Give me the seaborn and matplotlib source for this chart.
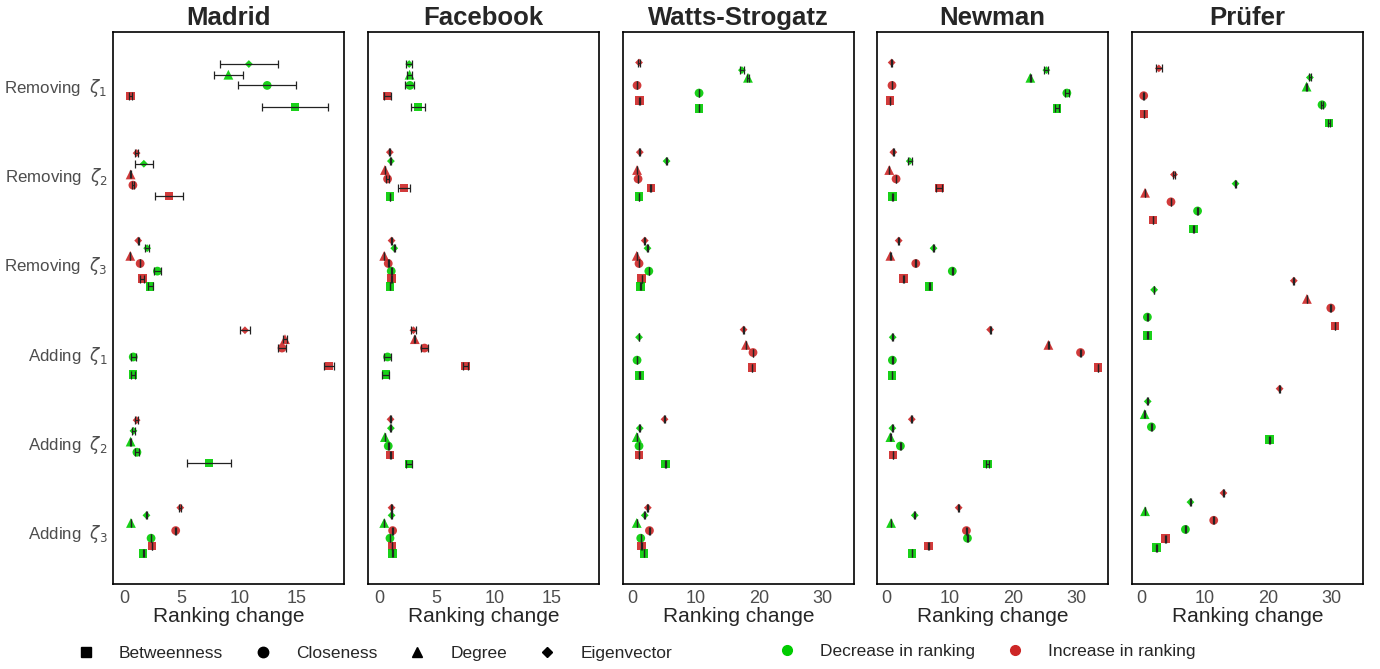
import numpy as np
import pandas as pd
import matplotlib
matplotlib.use("Agg")
import matplotlib.pyplot as plt
from matplotlib.lines import Line2D
import seaborn as sns

sns.set_style("white")
plt.rcParams["font.family"] = ["Liberation Sans", "DejaVu Sans"]

# categories (top to bottom)
categories = ["Removing  $\\zeta_1$", "Removing  $\\zeta_2$", "Removing  $\\zeta_3$",
              "Adding  $\\zeta_1$", "Adding  $\\zeta_2$", "Adding  $\\zeta_3$"]
# the Prüfer panel has no "Removing zeta_3" entry
pruefer_categories = [0, 1, 3, 4, 5]

networks = ["Madrid", "Facebook", "Watts-Strogatz", "Newman", "Prüfer"]
measures = ["Eigenvector", "Degree", "Closeness", "Betweenness"]
directions = ["inc", "dec"]

# rows: (category index, measure, direction, mean ranking change, error)
madrid = [
    (0, "Eigenvector", "dec", 10.83, 2.5), (0, "Degree", "dec", 9.05, 1.25),
    (0, "Closeness", "dec", 12.42, 2.5), (0, "Betweenness", "inc", 0.52, 0.12),
    (0, "Betweenness", "dec", 14.84, 2.83),
    (1, "Eigenvector", "inc", 1.07, 0.12), (1, "Eigenvector", "dec", 1.70, 0.78),
    (1, "Degree", "inc", 0.55, 0.03), (1, "Closeness", "inc", 0.75, 0.1),
    (1, "Betweenness", "inc", 3.89, 1.21),
    (2, "Eigenvector", "inc", 1.21, 0.05), (2, "Eigenvector", "dec", 1.99, 0.18),
    (2, "Degree", "inc", 0.52, 0.02), (2, "Closeness", "inc", 1.38, 0.03),
    (2, "Closeness", "dec", 2.88, 0.3), (2, "Betweenness", "inc", 1.56, 0.15),
    (2, "Betweenness", "dec", 2.25, 0.22),
    (3, "Eigenvector", "inc", 10.49, 0.45), (3, "Degree", "inc", 13.97, 0.15),
    (3, "Closeness", "inc", 13.71, 0.37), (3, "Closeness", "dec", 0.78, 0.2),
    (3, "Betweenness", "inc", 17.78, 0.43), (3, "Betweenness", "dec", 0.75, 0.15),
    (4, "Eigenvector", "inc", 1.07, 0.12), (4, "Eigenvector", "dec", 0.80, 0.12),
    (4, "Degree", "dec", 0.55, 0.03), (4, "Closeness", "dec", 1.10, 0.2),
    (4, "Betweenness", "dec", 7.35, 1.89),
    (5, "Eigenvector", "inc", 4.87, 0.1), (5, "Eigenvector", "dec", 1.93, 0.05),
    (5, "Degree", "dec", 0.58, 0.02), (5, "Closeness", "inc", 4.47, 0.03),
    (5, "Closeness", "dec", 2.33, 0.03), (5, "Betweenness", "inc", 2.42, 0.03),
    (5, "Betweenness", "dec", 1.64, 0.05),
]

facebook = [
    (0, "Eigenvector", "dec", 2.60, 0.25), (0, "Degree", "dec", 2.63, 0.2),
    (0, "Closeness", "dec", 2.66, 0.39), (0, "Betweenness", "inc", 0.69, 0.3),
    (0, "Betweenness", "dec", 3.38, 0.59),
    (1, "Eigenvector", "inc", 0.92, 0.05), (1, "Eigenvector", "dec", 1.01, 0.05),
    (1, "Degree", "inc", 0.49, 0.03), (1, "Closeness", "inc", 0.72, 0.15),
    (1, "Betweenness", "inc", 2.16, 0.49), (1, "Betweenness", "dec", 0.92, 0.03),
    (2, "Eigenvector", "inc", 1.07, 0.05), (2, "Eigenvector", "dec", 1.30, 0.05),
    (2, "Degree", "inc", 0.43, 0.02), (2, "Closeness", "inc", 0.78, 0.03),
    (2, "Closeness", "dec", 1.04, 0.05), (2, "Betweenness", "inc", 1.04, 0.03),
    (2, "Betweenness", "dec", 0.93, 0.03),
    (3, "Eigenvector", "inc", 2.97, 0.2), (3, "Degree", "inc", 3.09, 0.05),
    (3, "Closeness", "inc", 3.93, 0.3), (3, "Closeness", "dec", 0.72, 0.3),
    (3, "Betweenness", "inc", 7.50, 0.25), (3, "Betweenness", "dec", 0.58, 0.3),
    (4, "Eigenvector", "inc", 0.98, 0.05), (4, "Eigenvector", "dec", 1.01, 0.05),
    (4, "Degree", "dec", 0.49, 0.03), (4, "Closeness", "dec", 0.78, 0.03),
    (4, "Betweenness", "inc", 0.95, 0.03), (4, "Betweenness", "dec", 2.60, 0.25),
    (5, "Eigenvector", "inc", 1.07, 0.05), (5, "Eigenvector", "dec", 1.07, 0.03),
    (5, "Degree", "dec", 0.43, 0.02), (5, "Closeness", "inc", 1.16, 0.03),
    (5, "Closeness", "dec", 0.93, 0.03), (5, "Betweenness", "inc", 1.10, 0.03),
    (5, "Betweenness", "dec", 1.13, 0.03),
]

watts = [
    (0, "Eigenvector", "inc", 1.10, 0.1), (0, "Eigenvector", "dec", 17.28, 0.3),
    (0, "Degree", "dec", 18.23, 0.1), (0, "Closeness", "inc", 0.79, 0.05),
    (0, "Closeness", "dec", 10.54, 0.05), (0, "Betweenness", "inc", 1.16, 0.05),
    (0, "Betweenness", "dec", 10.54, 0.05),
    (1, "Eigenvector", "inc", 1.22, 0.05), (1, "Eigenvector", "dec", 5.43, 0.1),
    (1, "Degree", "inc", 0.79, 0.03), (1, "Closeness", "inc", 0.95, 0.03),
    (1, "Betweenness", "inc", 2.95, 0.05), (1, "Betweenness", "dec", 1.10, 0.05),
    (2, "Eigenvector", "inc", 2.00, 0.05), (2, "Eigenvector", "dec", 2.43, 0.05),
    (2, "Degree", "inc", 0.74, 0.03), (2, "Closeness", "inc", 1.10, 0.03),
    (2, "Closeness", "dec", 2.64, 0.03), (2, "Betweenness", "inc", 1.53, 0.03),
    (2, "Betweenness", "dec", 1.32, 0.03),
    (3, "Eigenvector", "inc", 17.54, 0.1), (3, "Eigenvector", "dec", 1.10, 0.05),
    (3, "Degree", "inc", 17.91, 0.05), (3, "Closeness", "inc", 19.02, 0.05),
    (3, "Closeness", "dec", 0.79, 0.03), (3, "Betweenness", "inc", 18.86, 0.05),
    (3, "Betweenness", "dec", 1.16, 0.03),
    (4, "Eigenvector", "inc", 5.11, 0.1), (4, "Eigenvector", "dec", 1.22, 0.05),
    (4, "Degree", "dec", 0.74, 0.03), (4, "Closeness", "dec", 1.10, 0.03),
    (4, "Betweenness", "inc", 1.10, 0.03), (4, "Betweenness", "dec", 5.27, 0.05),
    (5, "Eigenvector", "inc", 2.48, 0.05), (5, "Eigenvector", "dec", 2.00, 0.05),
    (5, "Degree", "dec", 0.74, 0.03), (5, "Closeness", "inc", 2.74, 0.03),
    (5, "Closeness", "dec", 1.37, 0.03), (5, "Betweenness", "inc", 1.48, 0.03),
    (5, "Betweenness", "dec", 1.85, 0.03),
]

newman = [
    (0, "Eigenvector", "inc", 0.89, 0.1), (0, "Eigenvector", "dec", 25.21, 0.3),
    (0, "Degree", "dec", 22.69, 0.05), (0, "Closeness", "inc", 0.94, 0.05),
    (0, "Closeness", "dec", 28.43, 0.3), (0, "Betweenness", "inc", 0.63, 0.05),
    (0, "Betweenness", "dec", 26.90, 0.3),
    (1, "Eigenvector", "inc", 1.15, 0.1), (1, "Eigenvector", "dec", 3.73, 0.3),
    (1, "Degree", "inc", 0.50, 0.03), (1, "Closeness", "inc", 1.58, 0.05),
    (1, "Betweenness", "inc", 8.37, 0.5), (1, "Betweenness", "dec", 1.05, 0.05),
    (2, "Eigenvector", "inc", 1.99, 0.05), (2, "Eigenvector", "dec", 7.47, 0.1),
    (2, "Degree", "inc", 0.68, 0.03), (2, "Closeness", "inc", 4.68, 0.05),
    (2, "Closeness", "dec", 10.42, 0.05), (2, "Betweenness", "inc", 2.78, 0.05),
    (2, "Betweenness", "dec", 6.79, 0.05),
    (3, "Eigenvector", "inc", 16.37, 0.1), (3, "Eigenvector", "dec", 1.05, 0.05),
    (3, "Degree", "inc", 25.53, 0.05), (3, "Closeness", "inc", 30.58, 0.05),
    (3, "Closeness", "dec", 1.00, 0.03), (3, "Betweenness", "inc", 33.33, 0.03),
    (3, "Betweenness", "dec", 0.94, 0.03),
    (4, "Eigenvector", "inc", 4.05, 0.1), (4, "Eigenvector", "dec", 1.00, 0.03),
    (4, "Degree", "dec", 0.68, 0.03), (4, "Closeness", "dec", 2.26, 0.03),
    (4, "Betweenness", "inc", 1.10, 0.03), (4, "Betweenness", "dec", 15.95, 0.2),
    (5, "Eigenvector", "inc", 11.42, 0.05), (5, "Eigenvector", "dec", 4.52, 0.05),
    (5, "Degree", "dec", 0.79, 0.03), (5, "Closeness", "inc", 12.64, 0.05),
    (5, "Closeness", "dec", 12.80, 0.05), (5, "Betweenness", "inc", 6.68, 0.03),
    (5, "Betweenness", "dec", 4.05, 0.03),
]

pruefer = [
    (0, "Eigenvector", "inc", 2.80, 0.5), (0, "Eigenvector", "dec", 26.55, 0.2),
    (0, "Degree", "dec", 26.03, 0.03), (0, "Closeness", "inc", 0.42, 0.05),
    (0, "Closeness", "dec", 28.46, 0.2), (0, "Betweenness", "inc", 0.47, 0.03),
    (0, "Betweenness", "dec", 29.57, 0.1),
    (1, "Eigenvector", "inc", 5.18, 0.1), (1, "Eigenvector", "dec", 14.86, 0.05),
    (1, "Degree", "inc", 0.63, 0.03), (1, "Closeness", "inc", 4.71, 0.03),
    (1, "Closeness", "dec", 8.89, 0.05), (1, "Betweenness", "inc", 1.90, 0.05),
    (1, "Betweenness", "dec", 8.25, 0.05),
    (3, "Eigenvector", "inc", 24.02, 0.1), (3, "Eigenvector", "dec", 2.06, 0.05),
    (3, "Degree", "inc", 26.08, 0.03), (3, "Closeness", "inc", 29.84, 0.05),
    (3, "Closeness", "dec", 1.00, 0.03), (3, "Betweenness", "inc", 30.53, 0.03),
    (3, "Betweenness", "dec", 1.00, 0.03),
    (4, "Eigenvector", "inc", 21.79, 0.1), (4, "Eigenvector", "dec", 1.05, 0.05),
    (4, "Degree", "dec", 0.57, 0.03), (4, "Closeness", "dec", 1.63, 0.03),
    (4, "Betweenness", "dec", 20.20, 0.1),
    (5, "Eigenvector", "inc", 12.96, 0.1), (5, "Eigenvector", "dec", 7.77, 0.05),
    (5, "Degree", "dec", 0.63, 0.03), (5, "Closeness", "inc", 11.43, 0.1),
    (5, "Closeness", "dec", 6.98, 0.03), (5, "Betweenness", "inc", 3.86, 0.05),
    (5, "Betweenness", "dec", 2.43, 0.05),
]

panel_data = [madrid, facebook, watts, newman, pruefer]
panel_cats = [list(range(6))] * 4 + [pruefer_categories]
xlims = [(-0.98, 19.1), (-0.98, 19.1), (-1.42, 34.9), (-1.42, 34.9), (-1.42, 34.9)]
xticks = [[0, 5, 10, 15], [0, 5, 10, 15], [0, 10, 20, 30], [0, 10, 20, 30], [0, 10, 20, 30]]

green = "#00CC00"
red = "#CD2626"
palette = {"dec": green, "inc": red}
marker_map = {"Betweenness": "s", "Closeness": "o", "Degree": "^", "Eigenvector": "D"}
size_map = {"Betweenness": 38, "Closeness": 40, "Degree": 50, "Eigenvector": 16}
dodge_width = 0.6

fig = plt.figure(figsize=(13.8, 6.69), dpi=100)
W, H = 1380, 669
lefts = [113, 368, 623, 877, 1132]
pw, top, bottom = 231, 32, 584

for p, (name, rows) in enumerate(zip(networks, panel_data)):
    ax = fig.add_axes([lefts[p] / W, 1 - bottom / H, pw / W, (bottom - top) / H])
    df = pd.DataFrame(rows, columns=["cat", "measure", "direction", "value", "err"])
    cats = panel_cats[p]
    df["pos"] = df["cat"].map({c: i for i, c in enumerate(cats)})
    df["order"] = df["measure"].map(measures.index) * 2 + df["direction"].map(directions.index)
    df = df.sort_values(["pos", "order"])
    # position dodge: spread the groups present in each category
    df["k"] = df.groupby("pos").cumcount()
    df["m"] = df.groupby("pos")["value"].transform("size")
    df["y"] = df["pos"] - dodge_width / 2 + (df["k"] + 0.5) * dodge_width / df["m"]

    for meas in measures:
        sub = df[df["measure"] == meas]
        sns.scatterplot(data=sub, x="value", y="y", hue="direction", palette=palette,
                        marker=marker_map[meas], s=size_map[meas], linewidth=0,
                        alpha=0.9, legend=False, ax=ax, zorder=2)
    ax.errorbar(df["value"], df["y"], xerr=df["err"], fmt="none", ecolor="#222222",
                elinewidth=0.9, capsize=3.2, capthick=0.9, zorder=3)

    ax.set_xlim(*xlims[p])
    ax.set_ylim(len(cats) - 1 + 0.6, -0.6)
    ax.set_xticks(xticks[p])
    ax.set_xticklabels([str(t) for t in xticks[p]], fontsize=13, color="#4D4D4D")
    ax.set_yticks(range(len(cats)))
    if p == 0:
        ax.set_yticklabels([categories[c] for c in cats], fontsize=12.2, color="#4D4D4D")
    else:
        ax.set_yticklabels([])
    ax.tick_params(axis="both", direction="out", length=3, width=0.8, color="#333333", pad=1)
    if p != 0:
        ax.tick_params(axis="y", length=0)
    ax.set_xlabel("Ranking change", fontsize=15, labelpad=0)
    ax.set_ylabel("")
    ax.set_title(name, fontsize=18.5, fontweight="bold", pad=5)
    for s in ax.spines.values():
        s.set_color("black")
        s.set_linewidth(1.2)

shape_handles = [Line2D([], [], marker=marker_map[m], color="black", linestyle="none",
                        markersize=7.5 if m != "Eigenvector" else 5)
                 for m in ["Betweenness", "Closeness", "Degree", "Eigenvector"]]
fig.legend(shape_handles, ["Betweenness", "Closeness", "Degree", "Eigenvector"],
           ncol=4, loc="center", bbox_to_anchor=(372 / W, 1 - 653 / H), frameon=False,
           fontsize=12.5, handletextpad=1.1, handlelength=1.6, columnspacing=1.5)

color_handles = [Line2D([], [], marker="o", color=c, linestyle="none", markersize=7)
                 for c in [green, red]]
fig.legend(color_handles, ["Decrease in ranking", "Increase in ranking"],
           ncol=2, loc="center", bbox_to_anchor=(984 / W, 1 - 651 / H), frameon=False,
           fontsize=12.5, handletextpad=1.1, handlelength=1.6, columnspacing=1.5)

fig.savefig("out.png", dpi=100)
